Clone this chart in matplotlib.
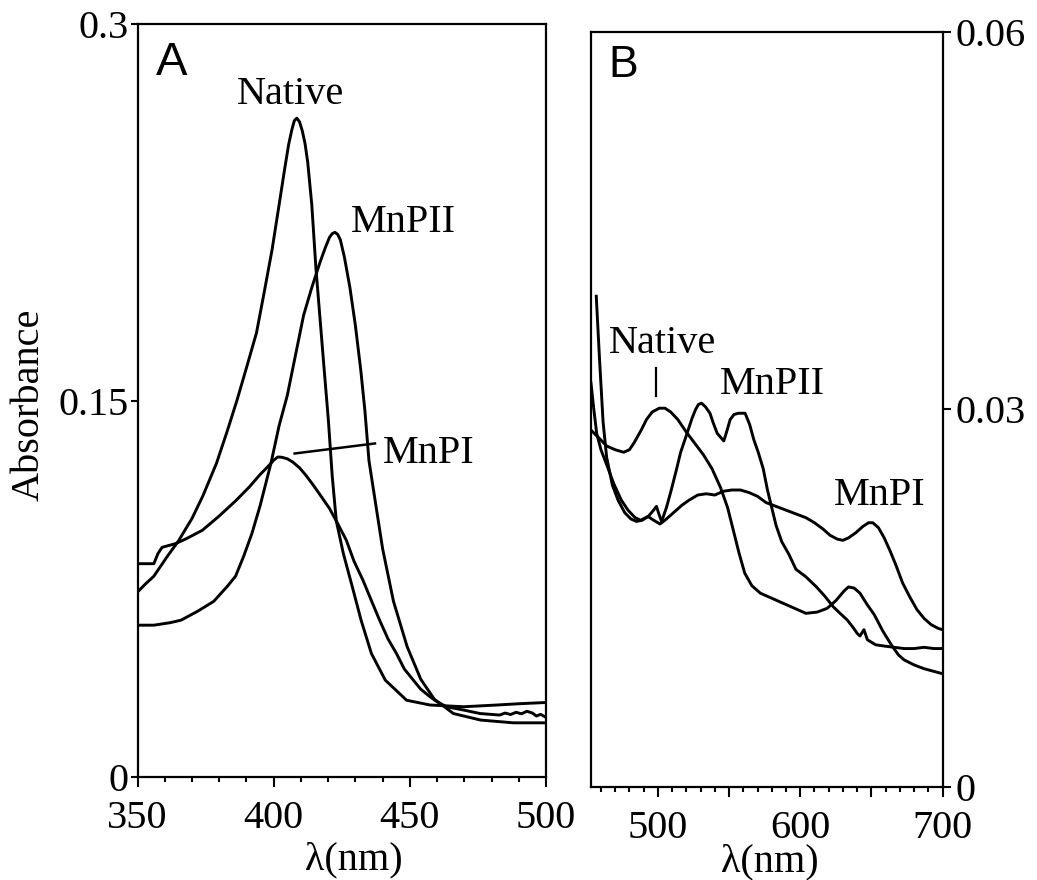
import matplotlib
matplotlib.use("Agg")
import matplotlib.pyplot as plt
from matplotlib.ticker import MultipleLocator, FixedLocator, FuncFormatter

plt.rcParams["font.family"] = ["Liberation Serif", "DejaVu Serif"]

# ---- Panel A: Soret region (350-500 nm) ----
a_native_nm = [350, 353, 356, 361, 365, 370, 374, 379, 383, 386.5, 390, 393.7, 396.5,
               399.4, 402, 404, 405.5, 406.7, 407.6, 408.5, 409.5, 410.5, 411.5, 412.5, 414,
               415.5, 417, 418.5, 420.1, 421.5, 423, 425.6, 428.9, 432.1, 435.9, 441, 448.8,
               457.4, 469.7, 482, 490, 500]
a_native = [0.0737, 0.077, 0.080, 0.088, 0.094, 0.103, 0.112, 0.125, 0.138, 0.150, 0.163,
            0.177, 0.193, 0.210, 0.228, 0.242, 0.252, 0.258, 0.2615, 0.2625, 0.2610, 0.2575,
            0.2525, 0.245, 0.228, 0.203, 0.183, 0.163, 0.142, 0.120, 0.102, 0.089, 0.0757,
            0.0625, 0.0492, 0.0386, 0.0306, 0.0287, 0.0280, 0.0287, 0.0292, 0.0297]

a_mnp2_nm = [350, 356, 362, 366, 372, 378, 383, 386, 389, 392, 395, 399, 402, 405, 408,
             411, 414, 417, 419, 420.5, 421.5, 422.5, 423.5, 424.5, 426, 428, 430, 432,
             433.5, 435, 437, 440, 444, 449, 454, 459, 466, 476, 488, 500]
a_mnp2 = [0.0605, 0.0605, 0.0615, 0.0625, 0.066, 0.070, 0.076, 0.080, 0.088, 0.097, 0.108,
          0.125, 0.140, 0.152, 0.168, 0.184, 0.195, 0.205, 0.211, 0.2150, 0.2165, 0.2170,
          0.2162, 0.2140, 0.207, 0.195, 0.180, 0.162, 0.146, 0.126, 0.112, 0.091, 0.070,
          0.052, 0.039, 0.031, 0.0253, 0.0227, 0.0216, 0.0216]

a_mnp1_nm = [350, 356, 357.5, 359, 364, 368, 373.8, 380, 386, 391, 395, 398, 400, 401.5,
             403, 405, 407, 409.5, 412, 414.4, 417, 420.5, 423.5, 426.7, 429.5, 432.8, 436,
             438.9, 442, 445.1, 448, 451.3, 454, 457.4, 460, 463.5, 469.7, 475.8, 483, 485,
             487, 489, 491, 493, 495, 496.5, 498, 500]
a_mnp1 = [0.085, 0.085, 0.089, 0.0915, 0.093, 0.095, 0.0983, 0.104, 0.110, 0.1155, 0.1205,
          0.1238, 0.1262, 0.1275, 0.1274, 0.1268, 0.1255, 0.1232, 0.120, 0.1165, 0.1125,
          0.1070, 0.101, 0.0943, 0.086, 0.0784, 0.070, 0.0625, 0.055, 0.0492, 0.043,
          0.0386, 0.035, 0.032, 0.030, 0.028, 0.0267, 0.0253, 0.0247, 0.0255, 0.0249,
          0.0258, 0.0252, 0.0262, 0.0255, 0.0243, 0.0250, 0.0238]

# ---- Panel B: visible region (453-700 nm) ----
b_native_nm = [453.5, 458, 464, 470, 476, 480, 483, 488, 492, 496, 501, 505, 509, 514, 520,
               526, 532, 538, 544, 549, 553, 557, 561, 566, 572, 580, 588, 596, 604, 612,
               619, 625, 631, 634, 638, 642, 647, 652, 658, 664, 669, 673, 680, 687, 700]
b_native = [0.0283, 0.0278, 0.0271, 0.0268, 0.0266, 0.0268, 0.0273, 0.0283, 0.0292, 0.0298,
            0.0301, 0.0301, 0.0298, 0.0292, 0.0282, 0.0273, 0.0264, 0.0253, 0.0238, 0.0222,
            0.0204, 0.0186, 0.0170, 0.0160, 0.0154, 0.0150, 0.0146, 0.0142, 0.0138, 0.0139,
            0.0142, 0.0148, 0.0156, 0.0159, 0.0158, 0.0154, 0.0145, 0.0137, 0.0124, 0.0113,
            0.0105, 0.0101, 0.0097, 0.0094, 0.0090]

b_mnp2_nm = [456.7, 459, 461.5, 464, 468, 472, 476.7, 481, 485, 489, 493.3, 497, 499, 501,
             502.6, 506, 509.4, 513, 516, 520.5, 524, 526.5, 528.5, 530.7, 533.5, 536.6, 539,
             541.7, 546.3, 548.5, 550.8, 553.5, 556.6, 561.3, 564.5, 567.4, 570.5, 574, 577,
             580, 583, 587, 592, 597, 604, 611.4, 617, 623.4, 628, 632.8, 637, 640.1, 642,
             644.8, 647.2, 653, 659, 666, 673, 680, 687, 694, 700]
b_mnp2 = [0.0390, 0.0340, 0.0290, 0.0262, 0.0240, 0.0228, 0.0218, 0.0213, 0.0211, 0.0212,
          0.0215, 0.0220, 0.0223, 0.0216, 0.0211, 0.0222, 0.0236, 0.0252, 0.0266, 0.0281,
          0.0293, 0.0300, 0.0304, 0.0305, 0.0302, 0.0297, 0.0289, 0.0281, 0.0275, 0.0283,
          0.0292, 0.0296, 0.0297, 0.0297, 0.0288, 0.0276, 0.0266, 0.0253, 0.0236, 0.0222,
          0.0208, 0.0195, 0.0185, 0.0173, 0.0167, 0.0159, 0.0152, 0.0143, 0.0138, 0.0133,
          0.0127, 0.0122, 0.0120, 0.0125, 0.0117, 0.0113, 0.0112, 0.0111, 0.0110, 0.0110,
          0.0111, 0.0110, 0.0110]

b_mnp1_nm = [453, 455, 457, 460, 464.4, 469, 474.3, 479, 484, 488, 493, 497, 501.5, 505, 509,
             513, 517, 522, 528, 534, 540, 546, 552, 558, 564, 570, 576, 583, 590, 597, 604,
             610, 616, 621, 626, 630, 634, 639, 644, 648, 651, 655, 659, 663, 667, 672, 677,
             682, 687, 692, 697, 700]
b_mnp1 = [0.0321, 0.0300, 0.0281, 0.0268, 0.0255, 0.0241, 0.0228, 0.0220, 0.0214, 0.0212,
          0.0215, 0.0212, 0.0209, 0.0212, 0.0216, 0.0220, 0.0224, 0.0228, 0.0232, 0.0233,
          0.0232, 0.0235, 0.0236, 0.0236, 0.0234, 0.0231, 0.0226, 0.0223, 0.0220, 0.0217,
          0.0214, 0.0210, 0.0205, 0.0200, 0.0197, 0.0196, 0.0198, 0.0202, 0.0207, 0.0210,
          0.0210, 0.0206, 0.0198, 0.0188, 0.0177, 0.0162, 0.0151, 0.0141, 0.0134, 0.0129,
          0.0126, 0.0125]

a_yticks = [0, 0.15, 0.3]
a_yticklabels = ["0", "0.15", "0.3"]
b_yticks = [0, 0.03, 0.06]
b_yticklabels = ["0", "0.03", "0.06"]

FS = 29
LW = 2.1

fig = plt.figure(figsize=(10.37, 8.8), dpi=100)
ax_a = fig.add_axes([0.1326, 0.1170, 0.3939, 0.8557])
ax_b = fig.add_axes([0.5699, 0.1057, 0.3390, 0.8580])


def style_axes(ax):
    for sp in ax.spines.values():
        sp.set_linewidth(1.6)
    ax.tick_params(which="both", direction="out", width=1.5, labelsize=FS)
    ax.tick_params(axis="x", which="major", length=7.5, pad=9)
    ax.tick_params(axis="x", which="minor", length=3.8)
    ax.tick_params(axis="y", which="major", length=5, pad=1.5)
    ax.xaxis.set_minor_locator(MultipleLocator(10))


# panel A
for xs, ys in [(a_native_nm, a_native), (a_mnp2_nm, a_mnp2), (a_mnp1_nm, a_mnp1)]:
    ax_a.plot(xs, ys, color="black", lw=LW)
ax_a.set_xlim(350, 500)
ax_a.set_ylim(0, 0.3)
style_axes(ax_a)
ax_a.xaxis.set_major_locator(MultipleLocator(50))
ax_a.yaxis.set_major_locator(FixedLocator(a_yticks))
ax_a.set_yticklabels(a_yticklabels)

ax_a.text(356.6, 0.2797, "A", fontsize=34, family=["Liberation Sans", "DejaVu Sans"])
ax_a.text(406, 0.268, "Native", fontsize=FS, ha="center", va="baseline")
ax_a.text(428.4, 0.217, "MnPII", fontsize=FS, va="baseline")
ax_a.text(440, 0.1253, "MnPI", fontsize=FS, va="baseline")
ax_a.plot([407.7, 437.2], [0.1289, 0.1329], color="black", lw=1.8)

# panel B
for xs, ys in [(b_native_nm, b_native), (b_mnp2_nm, b_mnp2), (b_mnp1_nm, b_mnp1)]:
    ax_b.plot(xs, ys, color="black", lw=LW)
ax_b.set_xlim(453, 700)
ax_b.set_ylim(0, 0.06)
style_axes(ax_b)
ax_b.xaxis.set_major_locator(MultipleLocator(50))
ax_b.xaxis.set_major_formatter(FuncFormatter(lambda v, p: f"{v:.0f}" if v % 100 == 0 else ""))
ax_b.yaxis.tick_right()
ax_b.yaxis.set_label_position("right")
ax_b.yaxis.set_major_locator(FixedLocator(b_yticks))
ax_b.set_yticklabels(b_yticklabels)
ax_b.tick_params(axis="y", which="major", length=6, pad=3)

ax_b.text(464.9, 0.0564, "B", fontsize=32, family=["Liberation Sans", "DejaVu Sans"])
ax_b.text(465.6, 0.0345, "Native", fontsize=FS, va="baseline")
ax_b.plot([498.7, 498.7], [0.0311, 0.0333], color="black", lw=1.6)
ax_b.text(543.5, 0.0312, "MnPII", fontsize=FS, va="baseline")
ax_b.text(623.4, 0.0224, "MnPI", fontsize=FS, va="baseline")

# axis titles
fig.text(354 / 1037, 1 - 860 / 880, "λ(nm)", fontsize=FS, ha="center", va="center")
fig.text(770 / 1037, 1 - 862 / 880, "λ(nm)", fontsize=FS, ha="center", va="center")
fig.text(29 / 1037, 1 - 405 / 880, "Absorbance", fontsize=FS, rotation=90,
         ha="center", va="center")

fig.savefig("out.png", dpi=100)
